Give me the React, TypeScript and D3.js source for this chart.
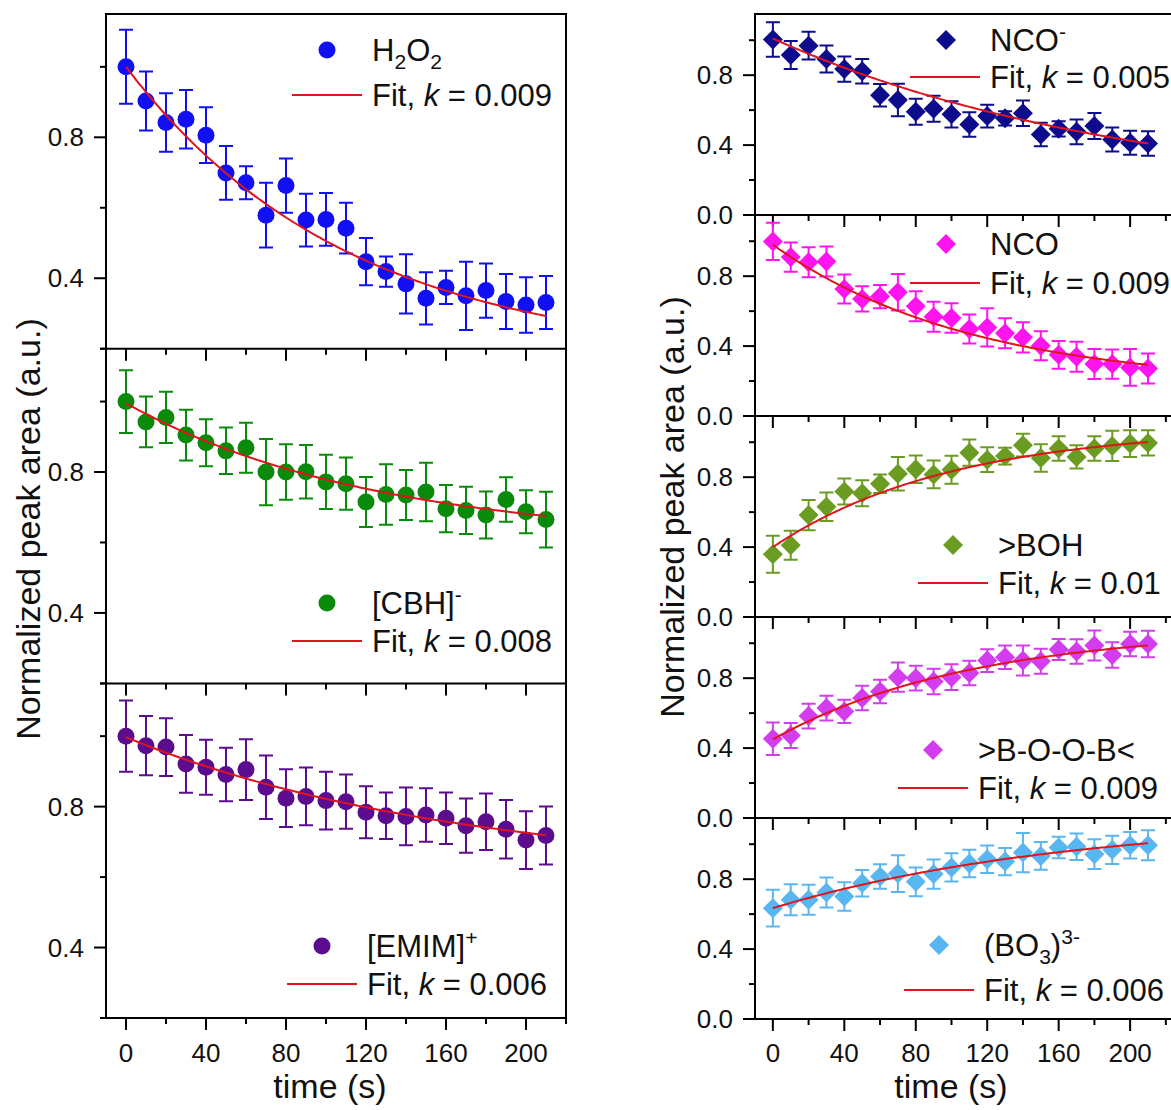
import React from "react";
import * as d3 from "d3";

// Sampling times (s), shared by every series
const times = [0, 10, 20, 30, 40, 50, 60, 70, 80, 90, 100, 110, 120, 130, 140, 150, 160, 170, 180, 190, 200, 210];

// Left column: solution species (normalized peak area and error)
const h2o2Area = [1.0, 0.903, 0.842, 0.851, 0.806, 0.699, 0.671, 0.579, 0.663, 0.565, 0.567, 0.542, 0.447, 0.419, 0.384, 0.343, 0.374, 0.35, 0.365, 0.334, 0.324, 0.331];
const h2o2Err = [0.105, 0.084, 0.083, 0.083, 0.079, 0.076, 0.047, 0.092, 0.077, 0.075, 0.075, 0.072, 0.067, 0.043, 0.084, 0.074, 0.047, 0.097, 0.077, 0.078, 0.079, 0.075];

const cbhArea = [1.0, 0.942, 0.955, 0.905, 0.883, 0.86, 0.869, 0.8, 0.8, 0.801, 0.772, 0.767, 0.715, 0.736, 0.735, 0.743, 0.696, 0.691, 0.678, 0.722, 0.687, 0.665];
const cbhErr = [0.089, 0.072, 0.073, 0.072, 0.067, 0.066, 0.071, 0.094, 0.079, 0.076, 0.077, 0.074, 0.071, 0.086, 0.071, 0.083, 0.067, 0.067, 0.067, 0.063, 0.061, 0.079];

const emimArea = [1.0, 0.973, 0.969, 0.921, 0.912, 0.891, 0.905, 0.855, 0.824, 0.829, 0.817, 0.814, 0.784, 0.774, 0.772, 0.776, 0.767, 0.746, 0.757, 0.736, 0.705, 0.718];
const emimErr = [0.101, 0.084, 0.082, 0.082, 0.078, 0.076, 0.086, 0.09, 0.082, 0.082, 0.082, 0.077, 0.074, 0.066, 0.082, 0.076, 0.073, 0.077, 0.08, 0.083, 0.082, 0.082];

// Right column: surface / boron species
const ncoMinusArea = [1.004, 0.916, 0.969, 0.893, 0.835, 0.822, 0.685, 0.658, 0.591, 0.608, 0.576, 0.518, 0.566, 0.553, 0.582, 0.461, 0.493, 0.476, 0.509, 0.432, 0.413, 0.409];
const ncoMinusErr = [0.099, 0.08, 0.08, 0.077, 0.072, 0.07, 0.064, 0.093, 0.074, 0.074, 0.075, 0.07, 0.065, 0.041, 0.073, 0.067, 0.044, 0.071, 0.074, 0.069, 0.069, 0.07];

const ncoArea = [0.999, 0.909, 0.88, 0.884, 0.727, 0.67, 0.683, 0.708, 0.628, 0.568, 0.561, 0.498, 0.507, 0.473, 0.45, 0.402, 0.35, 0.339, 0.297, 0.297, 0.278, 0.272];
const ncoErr = [0.106, 0.084, 0.086, 0.086, 0.083, 0.072, 0.067, 0.105, 0.086, 0.086, 0.084, 0.083, 0.11, 0.086, 0.086, 0.083, 0.079, 0.086, 0.086, 0.084, 0.105, 0.086];

const bohArea = [0.359, 0.411, 0.583, 0.631, 0.718, 0.708, 0.762, 0.82, 0.845, 0.816, 0.843, 0.94, 0.9, 0.921, 0.983, 0.91, 0.964, 0.916, 0.964, 0.979, 0.992, 0.996];
const bohErr = [0.106, 0.083, 0.086, 0.082, 0.075, 0.074, 0.053, 0.096, 0.079, 0.08, 0.08, 0.075, 0.071, 0.048, 0.065, 0.079, 0.07, 0.067, 0.07, 0.086, 0.077, 0.072];

const boobArea = [0.453, 0.472, 0.583, 0.629, 0.61, 0.686, 0.724, 0.806, 0.8, 0.781, 0.806, 0.83, 0.901, 0.92, 0.901, 0.897, 0.964, 0.952, 0.987, 0.933, 0.996, 0.996];
const boobErr = [0.093, 0.071, 0.071, 0.071, 0.067, 0.07, 0.067, 0.084, 0.071, 0.073, 0.074, 0.07, 0.065, 0.067, 0.086, 0.071, 0.06, 0.07, 0.086, 0.073, 0.07, 0.076];

const bo3Area = [0.634, 0.682, 0.682, 0.724, 0.701, 0.777, 0.815, 0.832, 0.785, 0.829, 0.867, 0.89, 0.914, 0.901, 0.952, 0.933, 0.981, 0.985, 0.943, 0.968, 0.994, 0.994];
const bo3Err = [0.105, 0.089, 0.086, 0.086, 0.081, 0.076, 0.07, 0.105, 0.082, 0.084, 0.081, 0.079, 0.078, 0.078, 0.112, 0.079, 0.062, 0.076, 0.085, 0.081, 0.076, 0.086];

// First-order fits y(t) = plateau + (start - plateau) * exp(-k t), in panel order
const fitRates = [0.009, 0.008, 0.006, 0.005, 0.009, 0.01, 0.009, 0.006];
const fitStart = [1.0, 0.995, 0.997, 1.01, 0.98, 0.4, 0.45, 0.634];
const fitPlateau = [0.167, 0.602, 0.609, 0.085, 0.17, 1.085, 1.083, 1.153];

// Axis ticks
const timeMajor = [0, 40, 80, 120, 160, 200];
const timeMinor = [20, 60, 100, 140, 180, 220];
const leftMajorY = [0.4, 0.8];
const leftMinorY = [0.2, 0.6, 1.0];
const rightMajorY = [0.0, 0.4, 0.8];
const rightMinorY = [0.2, 0.6, 1.0];

const FONT = "'Liberation Sans', Arial, Helvetica, sans-serif";
const FIT_COLOR = "#e0141c";
const LEGEND_SIZE = 31;

type Seg = { text: string; shift?: "sub" | "sup"; italic?: boolean };

const columns = [
  {
    x0: 106, x1: 566, xDomain: [-10, 220], yDomain: [0.2, 1.15],
    tops: [14, 348.7, 683.3], h: 334.7,
    majorY: leftMajorY, minorY: leftMinorY,
    titleX: 40, titleY: 529, timeTitleX: 330,
  },
  {
    x0: 755, x1: 1173, xDomain: [-10, 224], yDomain: [0, 1.15],
    tops: [14, 215, 416, 617, 818], h: 201,
    majorY: rightMajorY, minorY: rightMinorY,
    titleX: 684, titleY: 507, timeTitleX: 951,
  },
];

const panels = [
  { col: 0, row: 0, values: h2o2Area, errors: h2o2Err, color: "#1010f2", marker: "circle",
    label: [{ text: "H" }, { text: "2", shift: "sub" }, { text: "O" }, { text: "2", shift: "sub" }] as Seg[],
    legend: { symX: 327, textX: 372, y1: 50, y2: 95 } },
  { col: 0, row: 1, values: cbhArea, errors: cbhErr, color: "#0a8a0a", marker: "circle",
    label: [{ text: "[CBH]" }, { text: "-", shift: "sup" }] as Seg[],
    legend: { symX: 327, textX: 372, y1: 603, y2: 641 } },
  { col: 0, row: 2, values: emimArea, errors: emimErr, color: "#5c0c8e", marker: "circle",
    label: [{ text: "[EMIM]" }, { text: "+", shift: "sup" }] as Seg[],
    legend: { symX: 322, textX: 367, y1: 946, y2: 984 } },
  { col: 1, row: 0, values: ncoMinusArea, errors: ncoMinusErr, color: "#0c0c8c", marker: "diamond",
    label: [{ text: "NCO" }, { text: "-", shift: "sup" }] as Seg[],
    legend: { symX: 946, textX: 990, y1: 40, y2: 77 } },
  { col: 1, row: 1, values: ncoArea, errors: ncoErr, color: "#ff14f0", marker: "diamond",
    label: [{ text: "NCO" }] as Seg[],
    legend: { symX: 946, textX: 990, y1: 244, y2: 283 } },
  { col: 1, row: 2, values: bohArea, errors: bohErr, color: "#6b9c22", marker: "diamond",
    label: [{ text: ">BOH" }] as Seg[],
    legend: { symX: 953, textX: 998, y1: 545, y2: 583 } },
  { col: 1, row: 3, values: boobArea, errors: boobErr, color: "#d43cf0", marker: "diamond",
    label: [{ text: ">B-O-O-B<" }] as Seg[],
    legend: { symX: 933, textX: 978, y1: 750, y2: 788 } },
  { col: 1, row: 4, values: bo3Area, errors: bo3Err, color: "#5ab6f0", marker: "diamond",
    label: [{ text: "(BO" }, { text: "3", shift: "sub" }, { text: ")" }, { text: "3-", shift: "sup" }] as Seg[],
    legend: { symX: 939, textX: 984, y1: 945, y2: 990 } },
];

function RichText({ segs, x, y, size }: { segs: Seg[]; x: number; y: number; size: number }) {
  const small = size * 0.68;
  let shift = 0;
  return (
    <text x={x} y={y} fontSize={size} fill="#111" style={{ whiteSpace: "pre" }}>
      {segs.map((s, i) => {
        const target = s.shift === "sub" ? size * 0.26 : s.shift === "sup" ? -size * 0.4 : 0;
        const dy = target - shift;
        shift = target;
        return (
          <tspan key={i} dy={dy} fontSize={s.shift ? small : size} fontStyle={s.italic ? "italic" : "normal"}>
            {s.text}
          </tspan>
        );
      })}
    </text>
  );
}

function Marker({ kind, cx, cy, color }: { kind: string; cx: number; cy: number; color: string }) {
  if (kind === "circle") return <circle cx={cx} cy={cy} r={8.5} fill={color} />;
  const r = 10;
  return <path d={`M${cx},${cy - r}L${cx + r},${cy}L${cx},${cy + r}L${cx - r},${cy}Z`} fill={color} />;
}

function Panel({ p, index }: { p: (typeof panels)[number]; index: number }) {
  const col = columns[p.col];
  const top = col.tops[p.row];
  const bottom = top + col.h;
  const x = d3.scaleLinear().domain(col.xDomain).range([col.x0, col.x1]);
  const y = d3.scaleLinear().domain(col.yDomain).range([bottom, top]);

  const k = fitRates[index];
  const a = fitStart[index];
  const b = fitPlateau[index];
  const fitT = d3.range(0, 211, 1);
  const fitPath = d3
    .line<number>()
    .x((t) => x(t))
    .y((t) => y(b + (a - b) * Math.exp(-k * t)))(fitT) as string;

  const cap = 7;
  const L = p.legend;
  const fitLabel: Seg[] = [{ text: "Fit, " }, { text: "k", italic: true }, { text: ` = ${k}` }];

  return (
    <g>
      {/* error bars */}
      <g stroke={p.color} strokeWidth={2} fill="none">
        {times.map((t, i) => {
          const cx = x(t);
          const yt = y(p.values[i] + p.errors[i]);
          const yb = y(p.values[i] - p.errors[i]);
          return (
            <path key={t} d={`M${cx},${yt}V${yb}M${cx - cap},${yt}H${cx + cap}M${cx - cap},${yb}H${cx + cap}`} />
          );
        })}
      </g>
      {/* markers */}
      {times.map((t, i) => (
        <Marker key={t} kind={p.marker} cx={x(t)} cy={y(p.values[i])} color={p.color} />
      ))}
      {/* fit */}
      <path d={fitPath} fill="none" stroke={FIT_COLOR} strokeWidth={2} />
      {/* legend */}
      <Marker kind={p.marker} cx={L.symX} cy={L.y1} color={p.color} />
      <RichText segs={p.label} x={L.textX} y={L.y1 + 11} size={LEGEND_SIZE} />
      <line x1={L.textX - 80} x2={L.textX - 10} y1={L.y2} y2={L.y2} stroke={FIT_COLOR} strokeWidth={2} />
      <RichText segs={fitLabel} x={L.textX} y={L.y2 + 11} size={LEGEND_SIZE} />
      {/* axis ticks (outward) */}
      <g stroke="#000" strokeWidth={2}>
        {timeMajor.map((t) => (
          <line key={"M" + t} x1={x(t)} x2={x(t)} y1={bottom} y2={bottom + 12} />
        ))}
        {timeMinor.map((t) => (
          <line key={"m" + t} x1={x(t)} x2={x(t)} y1={bottom} y2={bottom + 6} />
        ))}
        {col.majorY.map((v) => (
          <line key={"YM" + v} x1={col.x0 - 12} x2={col.x0} y1={y(v)} y2={y(v)} />
        ))}
        {col.minorY.map((v) => (
          <line key={"Ym" + v} x1={col.x0 - 6} x2={col.x0} y1={y(v)} y2={y(v)} />
        ))}
      </g>
      {col.majorY.map((v) => (
        <text key={"YL" + v} x={col.x0 - 22} y={y(v) + 9} fontSize={26} textAnchor="end" fill="#111">
          {v.toFixed(1)}
        </text>
      ))}
      {/* panel separator / bottom axis line */}
      <line x1={col.x0 - (col.majorY.includes(col.yDomain[0]) ? 12 : 6)} x2={col.x1} y1={bottom} y2={bottom} stroke="#000" strokeWidth={2} />
    </g>
  );
}

function Column({ c }: { c: number }) {
  const col = columns[c];
  const bottom = col.tops[col.tops.length - 1] + col.h;
  const x = d3.scaleLinear().domain(col.xDomain).range([col.x0, col.x1]);
  return (
    <g>
      <rect x={col.x0} y={col.tops[0]} width={col.x1 - col.x0} height={bottom - col.tops[0]} fill="none" stroke="#000" strokeWidth={2} />
      {timeMajor.map((t) => (
        <text key={t} x={x(t)} y={1062} fontSize={26} textAnchor="middle" fill="#111">
          {t}
        </text>
      ))}
      <text x={col.timeTitleX} y={1098} fontSize={34} textAnchor="middle" fill="#111">
        time (s)
      </text>
      <text
        transform={`translate(${col.titleX},${col.titleY}) rotate(-90)`}
        fontSize={34}
        textAnchor="middle"
        fill="#111"
      >
        Normalized peak area (a.u.)
      </text>
    </g>
  );
}

export default function App() {
  return (
    <svg
      width={1171}
      height={1110}
      fontFamily={FONT}
      style={{ position: "absolute", left: 0, top: 0, display: "block", background: "#fff" }}
    >
      <rect width={1171} height={1110} fill="#fff" />
      <Column c={0} />
      <Column c={1} />
      {panels.map((p, i) => (
        <Panel key={i} p={p} index={i} />
      ))}
    </svg>
  );
}
